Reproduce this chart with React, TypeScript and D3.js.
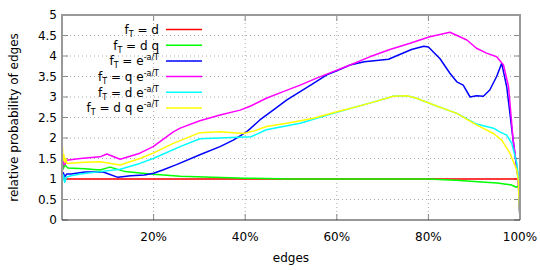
import React from 'react'
import * as d3 from 'd3'

// x in percent of edges, y = relative probability
const fD: [number, number][] = [[0, 1], [99.8, 1], [100, 0]]
const fDQ: [number, number][] = [
  [0.1, 1.45], [0.3, 1.25], [0.6, 1.35], [1, 1.3], [1.3, 1.27], [5, 1.25], [8.3, 1.22],
  [10.5, 1.29], [13.8, 1.18], [19.2, 1.12], [25.8, 1.07], [40, 1.02], [50, 1.0], [80, 1.0],
  [86, 0.97], [90, 0.94], [95, 0.9], [98, 0.86], [99.2, 0.8], [99.7, 0.84], [100, 0]]
const fE: [number, number][] = [
  [0.1, 1.0], [0.3, 1.15], [0.6, 1.05], [1, 1.12], [2, 1.12], [5, 1.17], [9, 1.17],
  [12.2, 1.04], [15, 1.08], [18, 1.1], [20, 1.14], [22, 1.22], [25, 1.35], [30.1, 1.59],
  [34.5, 1.79], [37.4, 1.95], [40.3, 2.15], [43.2, 2.44], [46.1, 2.68], [49.1, 2.93], [52, 3.13],
  [54.9, 3.33], [57.8, 3.54], [60, 3.64], [62.9, 3.78], [66, 3.86], [71.3, 3.92], [76.3, 4.16],
  [79, 4.24], [80, 4.22], [82.5, 3.94], [84.7, 3.58], [86.2, 3.37], [87.6, 3.29], [89.1, 3.0],
  [90.5, 3.03], [92, 3.02], [93.4, 3.17], [94.9, 3.5], [96, 3.82], [97.1, 3.25], [98.5, 1.95],
  [99.6, 1.0], [100, 0]]
const fQE: [number, number][] = [
  [0.1, 1.25], [0.3, 1.5], [0.6, 1.35], [1, 1.46], [4, 1.5], [8.3, 1.54], [9.8, 1.61],
  [12.7, 1.48], [17, 1.63], [19.9, 1.79], [24.3, 2.15], [25.8, 2.24], [30.1, 2.42], [34.5, 2.56],
  [38.9, 2.68], [41.2, 2.78], [44.6, 2.97], [48.3, 3.13], [52, 3.29], [55.6, 3.46], [59.2, 3.62],
  [62.9, 3.78], [67.2, 3.98], [71.6, 4.16], [76, 4.31], [80.3, 4.47], [84.7, 4.58], [88.4, 4.39],
  [90.5, 4.19], [92.7, 4.07], [94.9, 3.98], [96.4, 3.78], [97.5, 3.25], [98.5, 1.95], [99.6, 1.05],
  [100, 0]]
const fDE: [number, number][] = [
  [0.1, 0.95], [0.3, 1.1], [0.6, 0.92], [1, 1.05], [2, 1.08], [4, 1.12], [8.3, 1.18],
  [12.7, 1.24], [17, 1.38], [19.9, 1.5], [25.8, 1.79], [30.1, 1.98], [41.3, 2.03], [44.6, 2.2],
  [52, 2.36], [59.2, 2.6], [62.9, 2.72], [67.2, 2.85], [72.3, 3.02], [75.3, 3.03],
  [77.4, 2.97], [81.8, 2.78], [86.2, 2.6], [90.5, 2.34], [94.2, 2.24], [95.6, 2.15], [97.1, 2.07],
  [98.2, 1.87], [99.3, 1.39], [99.7, 1.0], [100, 0]]
const fDQE: [number, number][] = [
  [0.1, 1.8], [0.2, 1.45], [0.4, 1.6], [0.6, 1.4], [0.8, 1.5], [1.1, 1.38], [4, 1.4],
  [8.3, 1.42], [12.7, 1.34], [17, 1.5], [19.9, 1.63], [24.3, 1.87], [30.1, 2.13], [34.5, 2.15],
  [39.6, 2.11], [42.2, 2.18], [44.6, 2.28], [49.1, 2.36], [54.9, 2.48], [60, 2.64], [62.9, 2.72],
  [67.2, 2.85], [72.3, 3.02], [75.3, 3.03], [77.4, 2.97], [81.8, 2.78], [86.2, 2.6], [90.5, 2.32],
  [94.2, 2.11], [96, 1.95], [97.8, 1.63], [99.3, 1.22], [99.6, 0.98], [100, 0]]

const seriesColors = ['#ff0000', '#00ff00', '#0000ff', '#ff00ff', '#00ffff', '#ffff00']
const seriesData = [fD, fDQ, fE, fQE, fDE, fDQE]
// legend: [prefix, superscript]
const legendLabels: [string, string][] = [
  ['d', ''], ['d q', ''], ['e', '-a/T'], ['q e', '-a/T'], ['d e', '-a/T'], ['d q e', '-a/T']]

const xTicks = [20, 40, 60, 80, 100]
const yTicks = [0, 0.5, 1, 1.5, 2, 2.5, 3, 3.5, 4, 4.5, 5]

const font = 'DejaVu Sans, sans-serif'

export default function App() {
  const W = 540, H = 270
  const margin = { left: 62, right: 20, top: 15, bottom: 50 }
  const x = d3.scaleLinear().domain([0, 100]).range([margin.left, W - margin.right])
  const y = d3.scaleLinear().domain([0, 5]).range([H - margin.bottom, margin.top])
  const line = d3.line<[number, number]>().x(d => x(d[0])).y(d => y(d[1]))
  const x0 = x(0), x1 = x(100), y0 = y(0), y1 = y(5)

  return (
    <svg width={W} height={H} style={{ position: 'absolute', left: 0, top: 0, background: '#fff' }}
      fontFamily={font}>
      {/* grid */}
      {yTicks.filter(t => t > 0 && t < 5).map(t => (
        <line key={'gy' + t} x1={x0} x2={x1} y1={y(t)} y2={y(t)} stroke="#aaa" strokeWidth={1}
          strokeDasharray="1,3" />
      ))}
      {xTicks.filter(t => t < 100).map(t => (
        <line key={'gx' + t} x1={x(t)} x2={x(t)} y1={y0} y2={y1} stroke="#aaa" strokeWidth={1}
          strokeDasharray="1,3" />
      ))}
      {/* tick marks (mirrored) */}
      {yTicks.map(t => (
        <g key={'ty' + t}>
          <line x1={x0} x2={x0 + 6} y1={y(t)} y2={y(t)} stroke="#888" />
          <line x1={x1} x2={x1 - 6} y1={y(t)} y2={y(t)} stroke="#888" />
        </g>
      ))}
      {xTicks.map(t => (
        <g key={'tx' + t}>
          <line x1={x(t)} x2={x(t)} y1={y0} y2={y0 - 6} stroke="#888" />
          <line x1={x(t)} x2={x(t)} y1={y1} y2={y1 + 6} stroke="#888" />
        </g>
      ))}
      {/* curves */}
      {seriesData.map((s, i) => (
        <path key={'s' + i} d={line(s) || ''} fill="none" stroke={seriesColors[i]} strokeWidth={1.5}
          strokeLinejoin="round" />
      ))}
      {/* border */}
      <path d={`M${x0},${y0}V${y1}H${x1}V${y0}`} fill="none" stroke="#999" strokeWidth={2} />
      <line x1={x0} x2={x1} y1={y0} y2={y0} stroke="#333" strokeWidth={1} />
      {/* tick labels */}
      {yTicks.map(t => (
        <text key={'ly' + t} x={x0 - 5} y={y(t)} dy="0.36em" textAnchor="end" fontSize={12}
          fill="#000">{String(t)}</text>
      ))}
      {xTicks.map(t => (
        <text key={'lx' + t} x={x(t)} y={y0 + 21} textAnchor="middle" fontSize={12}
          fill="#000">{t + '%'}</text>
      ))}
      <text x={x(50)} y={262} textAnchor="middle" fontSize={12}>edges</text>
      <text transform={`translate(18,${(y0 + y1) / 2}) rotate(-90)`} textAnchor="middle"
        fontSize={12}>relative probability of edges</text>
      {/* legend */}
      {legendLabels.map((l, i) => {
        const ly = 29.5 + i * 15.7
        return (
          <g key={'lg' + i}>
            <text x={159} y={ly} dy="0.36em" textAnchor="end" fontSize={12}>
              <tspan>f</tspan>
              <tspan fontSize={8} dy="3">T</tspan>
              <tspan dy="-3">{' = ' + l[0]}</tspan>
              {l[1] ? <tspan fontSize={8} dy="-5">{l[1]}</tspan> : null}
            </text>
            <line x1={166} x2={202} y1={ly} y2={ly} stroke={seriesColors[i]} strokeWidth={1.5} />
          </g>
        )
      })}
    </svg>
  )
}
